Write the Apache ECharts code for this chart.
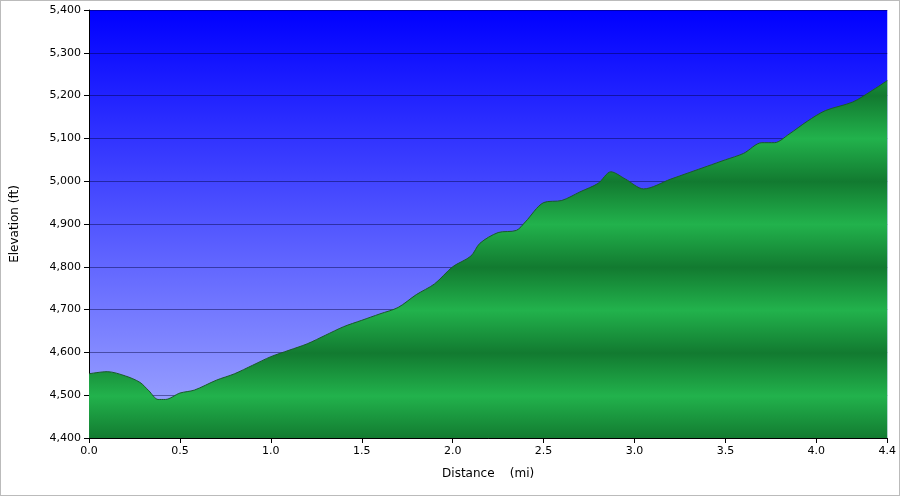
<!DOCTYPE html>
<html><head><meta charset="utf-8">
<script src="https://cdn.jsdelivr.net/npm/echarts@6/dist/echarts.min.js"></script>
<style>html,body{margin:0;padding:0;background:#fff}#c{width:900px;height:496px;box-sizing:border-box;border:1px solid #bbb}</style>
</head><body><div id="c"></div>
<script>
const distance = [0,0.1,0.2,0.28,0.33,0.38,0.42,0.5,0.58,0.7,0.8,0.9,1.0,1.1,1.2,1.3,1.4,1.5,1.6,1.7,1.8,1.9,2.0,2.1,2.15,2.25,2.35,2.4,2.5,2.6,2.7,2.8,2.87,2.95,3.05,3.2,3.4,3.5,3.6,3.7,3.77,3.85,3.95,4.05,4.2,4.3,4.39];
const elevation = [4550,4555,4545,4530,4510,4490,4490,4505,4512,4535,4550,4570,4590,4605,4620,4640,4660,4675,4690,4705,4735,4760,4800,4825,4855,4880,4885,4905,4950,4955,4975,4995,5022,5005,4982,5005,5035,5050,5065,5090,5090,5110,5140,5165,5185,5210,5235];
const chart = echarts.init(document.getElementById('c'));
const plotTop=9, plotBot=438;
const stops=[];
for(let v=5400; v>=4400; v-=100){
  const off=(5400-v)/1000;
  const dark = (v%200===0);
  stops.push({offset:off,color: dark ? '#127a30' : '#22b24c'});
}
chart.setOption({
  animation:false,
  grid:{left:86,right:11,top:plotTop,bottom:57,show:true,borderWidth:0,
    backgroundColor:{type:'linear',x:0,y:0,x2:0,y2:1,colorStops:[{offset:0,color:'#0000ff'},{offset:1,color:'#a4acff'}]}},
  xAxis:{type:'value',min:0,max:4.39,interval:0.5,name:'Distance    (mi)',nameLocation:'middle',nameGap:30,
    nameTextStyle:{fontFamily:'DejaVu Sans',fontSize:12,color:'#000'},
    axisLine:{lineStyle:{color:'#000'}},axisTick:{show:true,lineStyle:{color:'#000'}},splitLine:{show:false},
    axisLabel:{fontFamily:'DejaVu Sans',fontSize:11,color:'#000',showMaxLabel:true,
      formatter:v=> v>4.3 ? '4.4' : v.toFixed(1)}},
  yAxis:{type:'value',min:4400,max:5400,interval:100,name:'Elevation (ft)',nameLocation:'middle',nameGap:68,
    nameTextStyle:{fontFamily:'DejaVu Sans',fontSize:12,color:'#000'},
    axisLine:{show:true,lineStyle:{color:'#000'}},axisTick:{show:true,lineStyle:{color:'#000'}},
    splitLine:{show:true,lineStyle:{color:'rgba(0,0,60,0.45)',width:1}},
    axisLabel:{fontFamily:'DejaVu Sans',fontSize:11,color:'#000'}},
  series:[{type:'line',data:distance.map((d,i)=>[d,elevation[i]]),symbol:'none',smooth:0.3,
    lineStyle:{color:'#1a5a2a',width:1},
    areaStyle:{opacity:1,origin:'start',color:{type:'linear',global:true,x:0,y:plotTop,x2:0,y2:plotBot,colorStops:stops}},
    z:3}]
});
</script></body></html>
